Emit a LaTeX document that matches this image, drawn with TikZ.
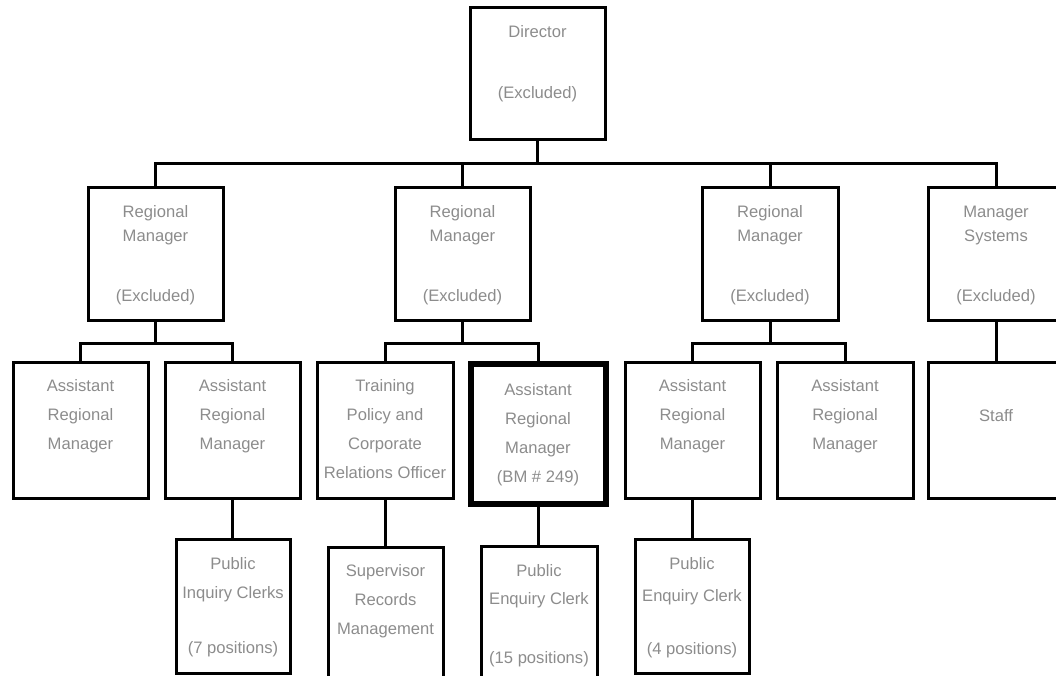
\documentclass[tikz,border=0pt]{standalone}
\usepackage{fontspec}
\setmainfont{Liberation Sans}
\definecolor{txtgray}{RGB}{140,140,140}
\newcommand\btxt[4]{\parbox[c][#2][t]{#1}{\fontsize{16.6pt}{29pt}\selectfont\centering\rule{0pt}{#3}#4}}
\tikzset{
  orgbox/.style={draw, line width=3pt, inner sep=0pt, text=txtgray},
  boldbox/.style={orgbox, line width=6pt},
  conn/.style={line width=3pt, line join=miter},
}
\begin{document}
\begin{tikzpicture}[x=1pt, y=-1pt]
\useasboundingbox (0,0) rectangle (1056,676);
\clip (0,0) rectangle (1056,676);
% level 1
\node[orgbox] (dir) at (537.5,74) {\btxt{135pt}{132pt}{30pt}{Director\\[32pt](Excluded)}};
% level 2
\node[orgbox] (rm1) at (155.5,254) {\btxt{135pt}{132pt}{29pt}{Regional\\[-5pt]Manager\\[31pt](Excluded)}};
\node[orgbox] (rm2) at (462.5,254) {\btxt{135pt}{132pt}{29pt}{Regional\\[-5pt]Manager\\[31pt](Excluded)}};
\node[orgbox] (rm3) at (770,254) {\btxt{136pt}{132pt}{29pt}{Regional\\[-5pt]Manager\\[31pt](Excluded)}};
\node[orgbox] (ms) at (996,254) {\btxt{135pt}{132pt}{29pt}{Manager\\[-5pt]Systems\\[31pt](Excluded)}};
% level 3
\node[orgbox] (arm1) at (80.5,430) {\btxt{135pt}{136pt}{29pt}{Assistant\\Regional\\Manager}};
\node[orgbox] (arm2) at (232.5,430) {\btxt{135pt}{136pt}{29pt}{Assistant\\Regional\\Manager}};
\node[orgbox] (tr) at (385,430) {\btxt{136pt}{136pt}{29pt}{Training\\Policy and\\Corporate\\Relations Officer}};
\node[boldbox] (arm4) at (538,433.5) {\btxt{135pt}{140pt}{32pt}{Assistant\\Regional\\Manager\\(BM \# 249)}};
\node[orgbox] (arm5) at (692.5,430) {\btxt{135pt}{136pt}{29pt}{Assistant\\Regional\\Manager}};
\node[orgbox] (arm6) at (845,430) {\btxt{136pt}{136pt}{29pt}{Assistant\\Regional\\Manager}};
\node[orgbox] (staff) at (996,430) {\btxt{135pt}{136pt}{59pt}{Staff}};
% level 4
\node[orgbox] (pic) at (233,606) {\btxt{114pt}{134pt}{30pt}{Public\\Inquiry Clerks\\[26pt](7 positions)}};
\node[orgbox] (sup) at (385.5,614.5) {\btxt{115pt}{135pt}{29pt}{Supervisor\\Records\\Management}};
\node[orgbox] (pec15) at (539,613.5) {\btxt{116pt}{135pt}{30pt}{Public\\[-1pt]Enquiry Clerk\\[30pt](15 positions)}};
\node[orgbox] (pec4) at (692,606) {\btxt{114pt}{134pt}{30pt}{Public\\[3pt]Enquiry Clerk\\[24pt](4 positions)}};
% connectors
\coordinate (b0) at (0,164);
\coordinate (b1) at (0,343);
\draw[conn] (dir.south) -- (dir.south |- b0);
\draw[conn] (rm1.north) -- (rm1.north |- b0) -- (ms.north |- b0) -- (ms.north);
\draw[conn] (rm2.north) -- (rm2.north |- b0);
\draw[conn] (rm3.north) -- (rm3.north |- b0);
\draw[conn] (rm1.south) -- (rm1.south |- b1);
\draw[conn] (arm1.north) -- (arm1.north |- b1) -- (arm2.north |- b1) -- (arm2.north);
\draw[conn] (rm2.south) -- (rm2.south |- b1);
\draw[conn] (tr.north) -- (tr.north |- b1) -- (arm4.north |- b1) -- (arm4.north);
\draw[conn] (rm3.south) -- (rm3.south |- b1);
\draw[conn] (arm5.north) -- (arm5.north |- b1) -- (arm6.north |- b1) -- (arm6.north);
\draw[conn] (ms.south) -- (staff.north);
\draw[conn] (arm2.south) -- (arm2.south |- pic.north);
\draw[conn] (tr.south) -- (tr.south |- sup.north);
\draw[conn] (arm4.south) -- (arm4.south |- pec15.north);
\draw[conn] (arm5.south) -- (arm5.south |- pec4.north);
\end{tikzpicture}
\end{document}
